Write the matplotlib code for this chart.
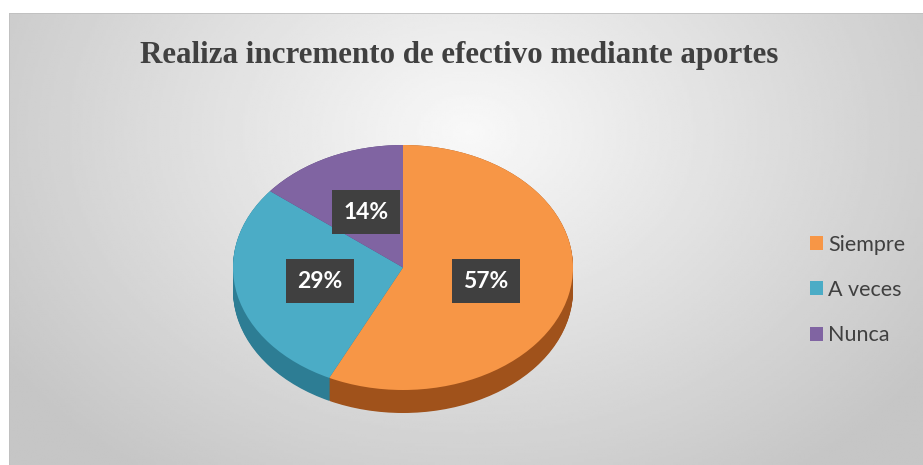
import numpy as np
import matplotlib
matplotlib.use("Agg")
import matplotlib.pyplot as plt

# ---- data ----
title = "Realiza incremento de efectivo mediante aportes"
categories = ["Siempre", "A veces", "Nunca"]
values = [4, 2, 1]
pct_labels = ["57%", "29%", "14%"]
top_colors = ["#f79646", "#4bacc6", "#8064a2"]
side_colors = ["#a0521b", "#2d7d94", "#56437a"]

W, H = 923, 465
fig = plt.figure(figsize=(W / 100, H / 100), dpi=100)
fig.patch.set_facecolor("white")

# chart area background (radial gradient)
x0, y0 = 9, 13
bg = fig.add_axes([x0 / W, 0, (W - x0) / W, (H - y0) / H])
bg.set_axis_off()
nx, ny = 400, 200
xx, yy = np.meshgrid(np.linspace(0, W - x0, nx), np.linspace(0, H - y0, ny))
cx, cy = 460, 120
r = np.sqrt(((xx - cx) / 560) ** 2 + ((yy - cy) / 420) ** 2)
r = np.clip(r, 0, 1)
g = 0.975 - 0.20 * r
bg.imshow(g, cmap="gray", vmin=0, vmax=1, aspect="auto",
          extent=[0, 1, 0, 1], origin="upper", interpolation="bilinear")
bg.set_xlim(0, 1); bg.set_ylim(0, 1)
bg.plot([0, 1], [1, 1], color="#bfbfbf", lw=1.2, transform=bg.transAxes)
bg.plot([0, 0], [0, 1], color="#bfbfbf", lw=1.2, transform=bg.transAxes)

# pie axes in pixel-mapped data coordinates
pcx, pcy, rx, ry = 403, 267.5, 170, 122.5
ax = fig.add_axes([0, 0, 1, 1])
ax.patch.set_alpha(0)

depth = 23 / ry
for d in np.linspace(depth, 0.0, 30):
    ax.pie(values, colors=side_colors, startangle=90, counterclock=False,
           center=(0, -d), radius=1, wedgeprops=dict(linewidth=0))

wedges, _, autotexts = ax.pie(
    values, colors=top_colors, startangle=90, counterclock=False,
    radius=1, autopct=lambda p: "", pctdistance=0.5,
    wedgeprops=dict(linewidth=0))

for t, lab in zip(autotexts, pct_labels):
    t.set_text(lab)
    t.set_color("white")
    t.set_fontsize(16.5)
    t.set_fontweight("bold")
    t.set_family("Lato")
    t.set_ha("center"); t.set_va("center")
    t.set_bbox(dict(boxstyle="square,pad=0.5", fc="#404040", ec="none"))

ax.set_aspect("auto")
ax.set_xlim(-pcx / rx, (W - pcx) / rx)
ax.set_ylim((pcy - H) / ry, pcy / ry)
ax.set_axis_off()

leg = ax.legend(wedges, categories, loc="center left",
                bbox_to_anchor=(801 / W, 1 - 290 / H), frameon=False,
                prop=dict(family="Lato", size=15.5),
                handlelength=0.62, handleheight=0.62, handletextpad=0.25,
                labelspacing=1.17, borderaxespad=0)
for t in leg.get_texts():
    t.set_color("#404040")

fig.text(459 / W, 1 - 63 / H, title, ha="center", va="baseline",
         family="Liberation Serif", fontweight="bold", fontsize=22.3,
         color="#404040")

fig.savefig("out.png", dpi=100)
